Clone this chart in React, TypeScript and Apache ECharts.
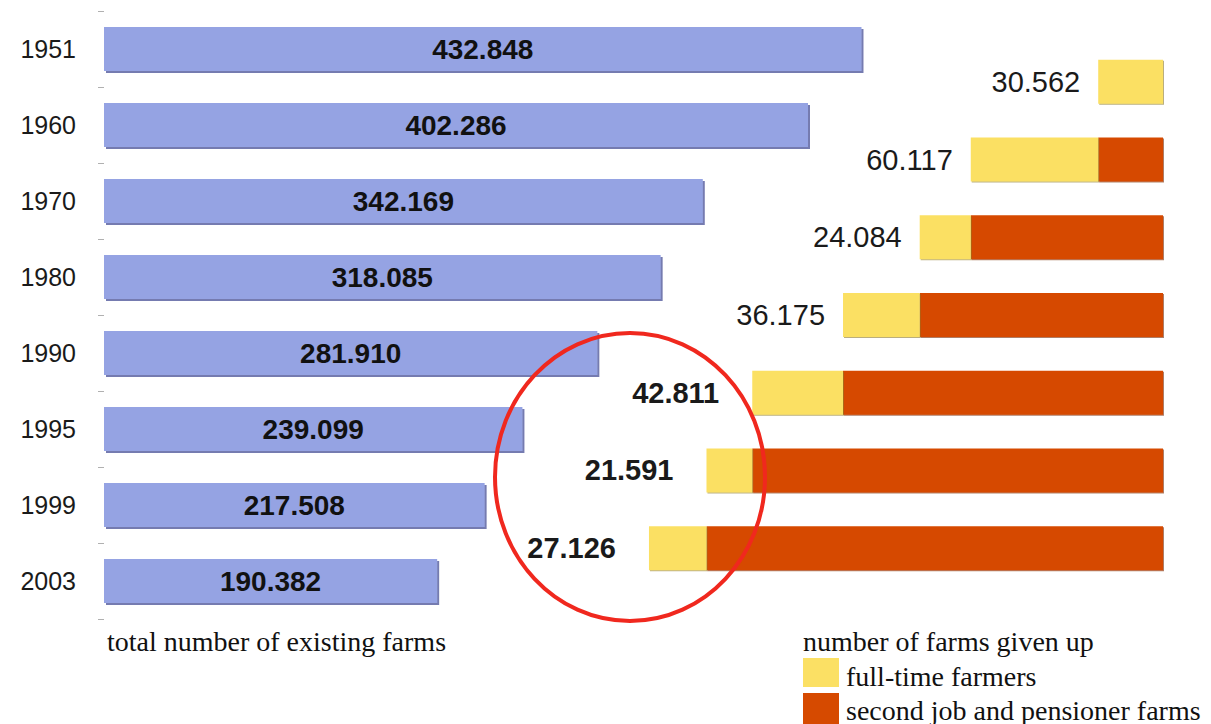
import React, { useEffect, useRef } from "react";
import * as echarts from "echarts";

const years = ["1951", "1960", "1970", "1980", "1990", "1995", "1999", "2003"];
const totalFarms = [432848, 402286, 342169, 318085, 281910, 239099, 217508, 190382];

const givenUpPeriods = ["1960", "1970", "1980", "1990", "1995", "1999", "2003"];
const givenUpFullTime = [30562, 60117, 24084, 36175, 42811, 21591, 27126];
const givenUpSecondJob = [0, 30562, 90679, 114763, 150938, 193749, 215340];

const leftTitle = "total number of existing farms";
const rightTitle = "number of farms given up";
const legendFullTime = "full-time farmers";
const legendSecondJob = "second job and pensioner farms";

const BLUE = "#95a3e3";
const YELLOW = "#fbe064";
const ORANGE = "#d64a00";
const SANS = '"Liberation Sans", Arial, sans-serif';
const SERIF = '"Liberation Serif", "Times New Roman", serif';

const fmt = (v: number) => (v / 1000).toFixed(3);

export default function App() {
  const ref = useRef<HTMLDivElement>(null);
  useEffect(() => {
    if (!ref.current) return;
    const chart = echarts.init(ref.current, null, { renderer: "svg" });
    const option = {
      animation: false,
      backgroundColor: "#ffffff",
      grid: [
        { left: 104, top: 11, width: 1050, height: 608 },
        { left: 527, top: 43, width: 636, height: 544 },
      ],
      xAxis: [
        { gridIndex: 0, type: "value", min: 0, max: 600000, show: false },
        { gridIndex: 1, type: "value", min: 0, max: 300000, inverse: true, show: false },
      ],
      yAxis: [
        {
          gridIndex: 0,
          type: "category",
          data: years,
          inverse: true,
          axisLine: { show: false },
          axisTick: { show: true, length: 6, lineStyle: { color: "#b0b0b0", width: 1 } },
          axisLabel: { fontFamily: SANS, fontSize: 25, color: "#1a1a1a", margin: 28 },
        },
        {
          gridIndex: 1,
          type: "category",
          data: givenUpPeriods,
          inverse: true,
          show: false,
        },
      ],
      series: [
        {
          type: "bar",
          xAxisIndex: 0,
          yAxisIndex: 0,
          data: totalFarms,
          barWidth: 44,
          itemStyle: {
            color: BLUE,
            shadowColor: "rgba(70,80,150,0.75)",
            shadowOffsetX: 2,
            shadowOffsetY: 2,
            shadowBlur: 1,
          },
          label: {
            show: true,
            position: "inside",
            formatter: (p: any) => fmt(p.value),
            fontFamily: SANS,
            fontWeight: "bold",
            fontSize: 28,
            color: "#111",
          },
        },
        {
          type: "bar",
          xAxisIndex: 1,
          yAxisIndex: 1,
          stack: "givenup",
          data: givenUpSecondJob,
          barWidth: 44,
          itemStyle: {
            color: ORANGE,
            shadowColor: "rgba(120,40,0,0.6)",
            shadowOffsetX: 1,
            shadowOffsetY: 1,
            shadowBlur: 1,
          },
        },
        {
          type: "bar",
          xAxisIndex: 1,
          yAxisIndex: 1,
          stack: "givenup",
          barWidth: 44,
          data: givenUpFullTime.map((v, i) => ({
            value: v,
            label: {
              fontWeight: i >= 4 ? "bold" : "normal",
              distance: i >= 4 ? 33 : 18,
            },
          })),
          itemStyle: {
            color: YELLOW,
            shadowColor: "rgba(140,120,40,0.6)",
            shadowOffsetX: 1,
            shadowOffsetY: 1,
            shadowBlur: 1,
          },
          label: {
            show: true,
            position: "left",
            formatter: (p: any) => fmt(p.value),
            fontFamily: SANS,
            fontSize: 29,
            color: "#1a1a1a",
          },
        },
      ],
      graphic: [
        {
          type: "ellipse",
          shape: { cx: 630, cy: 477, rx: 135, ry: 144 },
          style: { fill: "none", stroke: "#f0281e", lineWidth: 4 },
          z: 100,
        },
        {
          type: "text",
          style: { x: 107, y: 641, text: leftTitle, font: `28px ${SERIF}`, fill: "#111", textVerticalAlign: "middle" },
        },
        {
          type: "text",
          style: { x: 803, y: 641, text: rightTitle, font: `28px ${SERIF}`, fill: "#111", textVerticalAlign: "middle" },
        },
        { type: "rect", shape: { x: 803, y: 658, width: 36, height: 29 }, style: { fill: YELLOW } },
        { type: "rect", shape: { x: 803, y: 693, width: 36, height: 31 }, style: { fill: ORANGE } },
        {
          type: "text",
          style: { x: 846, y: 676, text: legendFullTime, font: `28px ${SERIF}`, fill: "#111", textVerticalAlign: "middle" },
        },
        {
          type: "text",
          style: { x: 846, y: 710, text: legendSecondJob, font: `28px ${SERIF}`, fill: "#111", textVerticalAlign: "middle" },
        },
      ],
    };
    chart.setOption(option as any);
    return () => chart.dispose();
  }, []);
  return (
    <div
      ref={ref}
      style={{ position: "fixed", left: 0, top: 0, width: 1211, height: 724 }}
    />
  );
}
